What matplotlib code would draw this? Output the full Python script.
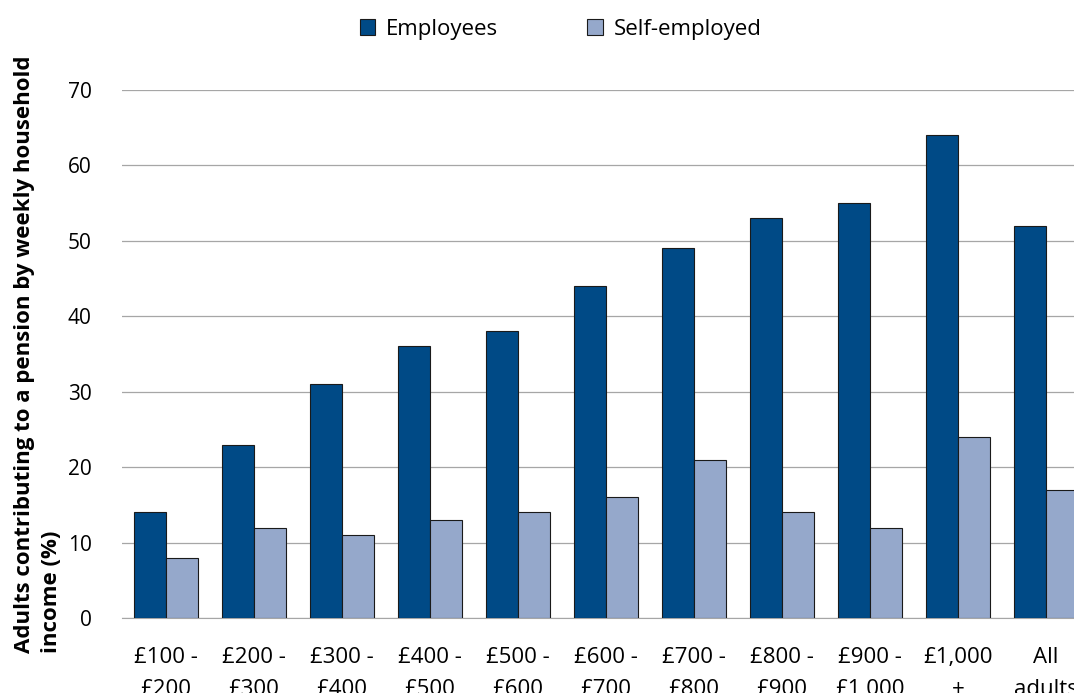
import numpy as np
import matplotlib.pyplot as plt

bands = ['£100 -\n£200', '£200 -\n£300', '£300 -\n£400', '£400 -\n£500',
         '£500 -\n£600', '£600 -\n£700', '£700 -\n£800', '£800 -\n£900',
         '£900 -\n£1,000', '£1,000\n+', 'All\nadults']
employees = [14, 23, 31, 36, 38, 44, 49, 53, 55, 64, 52]
self_employed = [8, 12, 11, 13, 14, 16, 21, 14, 12, 24, 17]

plt.rcParams['font.family'] = ['Open Sans', 'DejaVu Sans']

fig = plt.figure(figsize=(10.74, 6.93), dpi=100)
ax = fig.add_axes([0.1136, 0.1082, 0.9013, 0.7619])

x = np.arange(len(bands))
w = 0.36
ax.bar(x - w / 2, employees, w, color='#004a86', edgecolor='#1a1a1a', linewidth=0.8, label='Employees', zorder=3)
ax.bar(x + w / 2, self_employed, w, color='#95a8cb', edgecolor='#1a1a1a', linewidth=0.8, label='Self-employed', zorder=3)

ax.set_xlim(-0.5, len(bands) - 0.5)
ax.set_ylim(0, 70)
ax.set_yticks(range(0, 71, 10))
ax.yaxis.grid(True, color='#a6a6a6', linewidth=0.9, zorder=0)
ax.set_xticks(x)
ax.set_xticklabels(bands, fontsize=16, linespacing=1.65)
ax.tick_params(axis='x', length=0, pad=21)
ax.tick_params(axis='y', length=0, pad=22, labelsize=15)
for s in ['top', 'right', 'left']:
    ax.spines[s].set_visible(False)
ax.spines['bottom'].set_color('#a6a6a6')

ax.set_ylabel('Adults contributing to a pension by weekly household\nincome (%)',
              fontsize=16, fontweight='bold', ha='center', multialignment='left',
              linespacing=1.35, labelpad=4)

fig.legend(loc='center', bbox_to_anchor=(0.522, 0.958), ncol=2, frameon=False,
           fontsize=16, handlelength=0.7, handleheight=0.7, columnspacing=4.0, handletextpad=0.5)

fig.savefig('out.png', dpi=100)
